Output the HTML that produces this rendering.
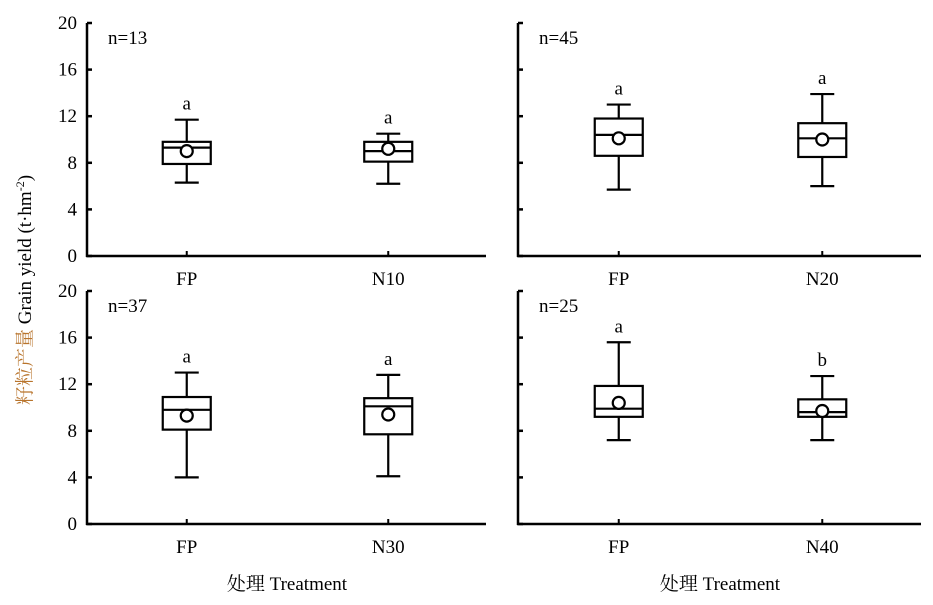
<!DOCTYPE html>
<html><head><meta charset="utf-8"><style>
body{margin:0;background:#fff}
svg text{font-family:"Liberation Serif","Noto Serif CJK SC",serif;fill:#000}
</style></head><body>
<svg id="c" width="933" height="600" viewBox="0 0 933 600">
<text transform="translate(31,290) rotate(-90)" text-anchor="middle" font-size="19"><tspan fill="#b8742c" style="fill:#b8742c">籽粒产量</tspan> Grain yield (t·hm<tspan dy="-7" font-size="12">-2</tspan><tspan dy="7">)</tspan></text>
<text x="287" y="590" text-anchor="middle" font-size="19">处理 Treatment</text>
<text x="720" y="590" text-anchor="middle" font-size="19">处理 Treatment</text>
</svg>
<script>
const panelNames=["n=13","n=45","n=37","n=25"];
const categories=[["FP","N10"],["FP","N20"],["FP","N30"],["FP","N40"]];
const whiskerLow=[[6.3,6.2],[5.7,6.0],[4.0,4.1],[7.2,7.2]];
const q1=[[7.9,8.1],[8.6,8.5],[8.1,7.7],[9.2,9.2]];
const medians=[[9.3,9.0],[10.4,10.1],[9.8,10.1],[9.9,9.6]];
const q3=[[9.8,9.8],[11.8,11.4],[10.9,10.8],[11.85,10.7]];
const whiskerHigh=[[11.7,10.5],[13.0,13.9],[13.0,12.8],[15.6,12.7]];
const means=[[9.0,9.2],[10.1,10.0],[9.3,9.4],[10.4,9.7]];
const letters=[["a","a"],["a","a"],["a","a"],["a","b"]];
const yTicks=[0,4,8,12,16,20];
const svg=document.getElementById('c');
const NS="http://www.w3.org/2000/svg";
function mk(tag,attrs,parent){const e=document.createElementNS(NS,tag);for(const k in attrs)e.setAttribute(k,attrs[k]);(parent||svg).appendChild(e);return e;}
const layout=[{x0:87,x1:486,yb:256,yt:23,lab:true},{x0:518,x1:921,yb:256,yt:23,lab:false},{x0:87,x1:486,yb:524,yt:291,lab:true},{x0:518,x1:921,yb:524,yt:291,lab:false}];
layout.forEach((L,p)=>{
  const g=mk('g',{});
  
  
  const yS=v=>L.yb-(v-0)/(20-0)*(L.yb-L.yt);
  const xS=i=>L.x0+(L.x1-L.x0)*(i===0?0.25:0.755);
  const ya=mk('line',{x1:L.x0,x2:L.x0,y1:L.yt,y2:L.yb+1,stroke:'#000','stroke-width':2.5},g);
  
  
  const xa=mk('line',{x1:L.x0-1,x2:L.x1,y1:L.yb,y2:L.yb,stroke:'#000','stroke-width':2.5},g);
  
  
  yTicks.forEach(t=>{
    mk('line',{x1:L.x0,x2:L.x0+5,y1:yS(t),y2:yS(t),stroke:'#000','stroke-width':2.5},g);
    if(L.lab){const tx=mk('text',{x:L.x0-10,y:yS(t)+6,'text-anchor':'end','font-size':19},g);tx.textContent=t;
      
      }
  });
  const nt=mk('text',{x:L.x0+21,y:L.yt+21,'font-size':19},g);nt.textContent=panelNames[p];
  
  
  categories[p].forEach((c,i)=>{
    const x=xS(i);
    mk('line',{x1:x,x2:x,y1:L.yb,y2:L.yb-5,stroke:'#000','stroke-width':2},g);
    const ct=mk('text',{x:x,y:L.yb+29,'text-anchor':'middle','font-size':19},g);ct.textContent=c;
    
    
    const b=mk('g',{},g);
    
    
    const st={stroke:'#000','stroke-width':2.2,fill:'none'};
    mk('line',Object.assign({x1:x,x2:x,y1:yS(whiskerHigh[p][i]),y2:yS(q3[p][i])},st),b);
    mk('line',Object.assign({x1:x,x2:x,y1:yS(q1[p][i]),y2:yS(whiskerLow[p][i])},st),b);
    mk('line',Object.assign({x1:x-12,x2:x+12,y1:yS(whiskerHigh[p][i]),y2:yS(whiskerHigh[p][i])},st),b);
    mk('line',Object.assign({x1:x-12,x2:x+12,y1:yS(whiskerLow[p][i]),y2:yS(whiskerLow[p][i])},st),b);
    mk('rect',Object.assign({x:x-24,width:48,y:yS(q3[p][i]),height:yS(q1[p][i])-yS(q3[p][i])},st),b);
    mk('line',Object.assign({x1:x-24,x2:x+24,y1:yS(medians[p][i]),y2:yS(medians[p][i])},st),b);
    mk('circle',{cx:x,cy:yS(means[p][i]),r:6,stroke:'#000','stroke-width':2.2,fill:'#fff'},b);
    const lt=mk('text',{x:x,y:yS(whiskerHigh[p][i])-10,'text-anchor':'middle','font-size':19},b);lt.textContent=letters[p][i];
    
    
  });
});
</script>
</body></html>
